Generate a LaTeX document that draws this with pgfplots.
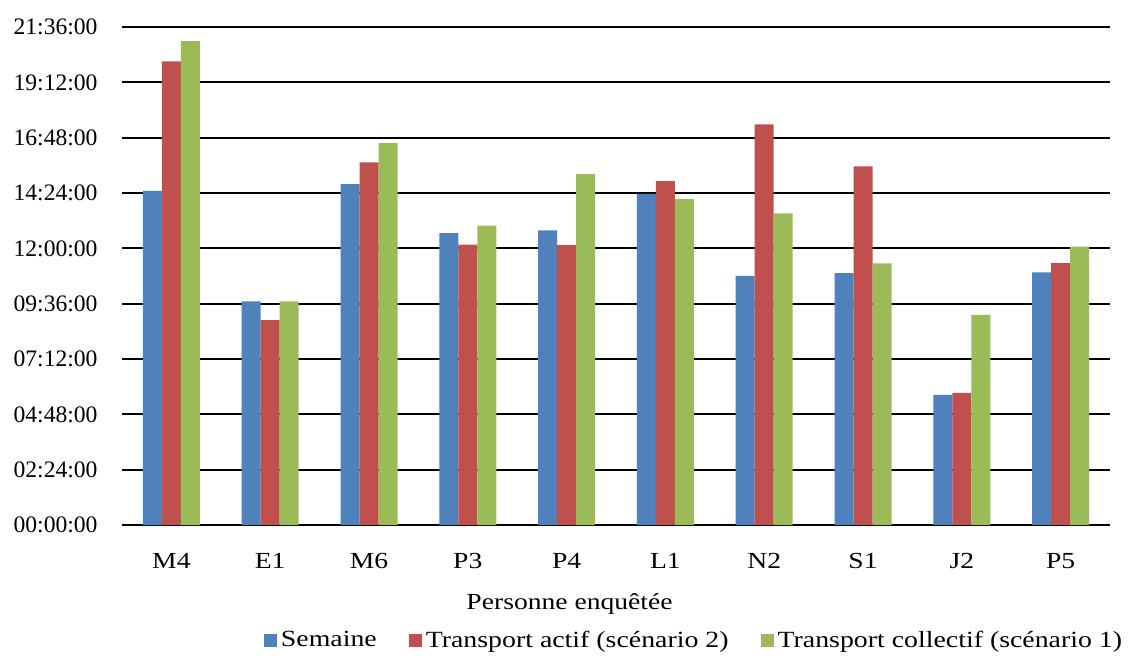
\documentclass[border=0pt]{standalone}
\usepackage{fontspec}
\setmainfont{Liberation Serif}[FakeStretch=1.2]
\newfontfamily\tickfont{Liberation Serif}
\usepackage{pgfplots}
\pgfplotsset{compat=1.18}
\definecolor{cblue}{HTML}{4F81BD}
\definecolor{cred}{HTML}{C0504D}
\definecolor{cgreen}{HTML}{9BBB59}
\begin{document}
\begin{tikzpicture}
\begin{axis}[
  scale only axis, width=494pt, height=249pt,
  ybar=0pt, bar width=9.5pt,
  xmin=-0.5, xmax=9.5, ymin=0, ymax=21.6,
  xtick={0,1,2,3,4,5,6,7,8,9},
  xticklabels={M4,E1,M6,P3,P4,L1,N2,S1,J2,P5},
  ytick={0,2.4,4.8,7.2,9.6,12,14.4,16.8,19.2,21.6},
  yticklabels={00:00:00,02:24:00,04:48:00,07:12:00,09:36:00,12:00:00,14:24:00,16:48:00,19:12:00,21:36:00},
  ymajorgrids, grid style={black, line width=0.9pt},
  major tick length=0pt, axis line style={draw=none},
  xticklabel style={font=\fontsize{11.5}{13}\selectfont, anchor=base, yshift=-21.5pt},
  yticklabel style={font=\tickfont\fontsize{11.8}{13}\selectfont, anchor=east, xshift=-8.7pt},
  xlabel={Personne enquêtée},
  xlabel style={font=\fontsize{11.5}{13}\selectfont, at={(rel axis cs:0.453,0)}, anchor=base, yshift=-42pt},
  legend columns=3,
  legend style={draw=none, fill=none, at={(rel axis cs:0.58,-0.232)}, anchor=center,
    font=\fontsize{11.6}{13}\selectfont,
    /tikz/every even column/.append style={column sep=14pt}},
  legend image code/.code={\fill[#1] (0pt,-3.25pt) rectangle (6.5pt,3.25pt);},
]
\addplot[fill=cblue, draw=none] coordinates {(0,14.49) (1,9.70) (2,14.79) (3,12.66) (4,12.78) (5,14.36) (6,10.81) (7,10.93) (8,5.64) (9,10.96)};
\addplot[fill=cred, draw=none] coordinates {(0,20.11) (1,8.89) (2,15.73) (3,12.16) (4,12.14) (5,14.92) (6,17.38) (7,15.56) (8,5.73) (9,11.36)};
\addplot[fill=cgreen, draw=none] coordinates {(0,20.99) (1,9.70) (2,16.56) (3,12.98) (4,15.22) (5,14.14) (6,13.52) (7,11.35) (8,9.11) (9,12.07)};
\legend{Semaine, Transport actif (scénario 2), Transport collectif (scénario 1)}
\end{axis}
\pgfresetboundingbox
\path[use as bounding box] ([xshift=-61pt,yshift=-65pt]current axis.south west) rectangle ++(564pt,327.5pt);
\end{tikzpicture}
\end{document}
